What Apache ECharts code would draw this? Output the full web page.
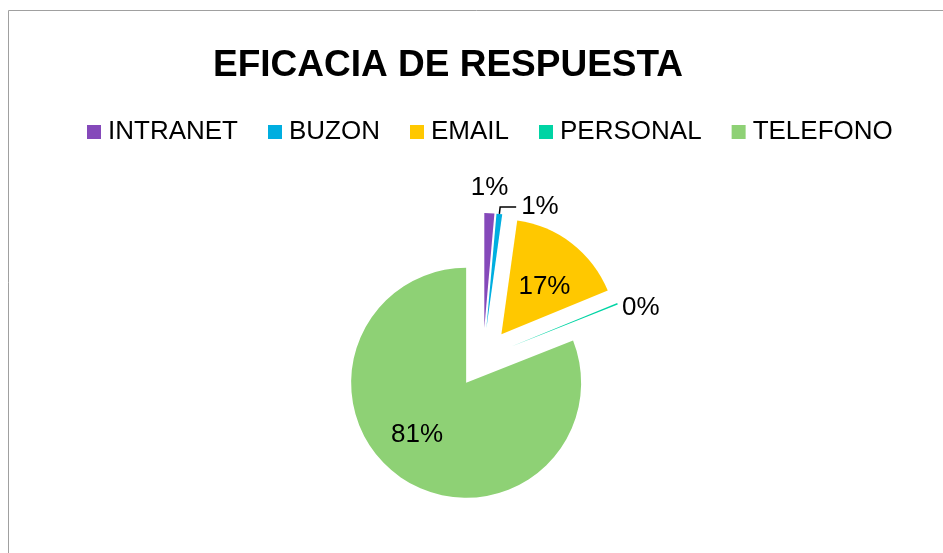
<!DOCTYPE html>
<html>
<head>
<meta charset="utf-8">
<title>EFICACIA DE RESPUESTA</title>
<script src="https://cdn.jsdelivr.net/npm/echarts@6/dist/echarts.min.js"></script>
<style>
  html, body { margin: 0; padding: 0; background: #fff; }
  #chart { width: 943px; height: 553px; }
</style>
</head>
<body>
<div id="chart"></div>
<script>
// datos
const categories = ['INTRANET', 'BUZON', 'EMAIL', 'PERSONAL', 'TELEFONO']
const values = [7, 4, 83, 1, 405]
const colors = ['#8549BA', '#00AEE0', '#FFC800', '#00D4A4', '#8ED175']

// etiquetas dentro o fuera de cada porcion
const labelInside = [false, false, true, false, true]
const showLeader = [false, true, false, false, false]

// pequenos ajustes de posicion de las etiquetas (px)
const labelShift = [[-40, -18], [0, 0], [6, 0], [-23, 7], [-15, 2]]

const chart = echarts.init(document.getElementById('chart'), null, { renderer: 'canvas' })

const font = '"Liberation Sans", Arial, sans-serif'

chart.setOption({
  animation: false,
  color: colors,
  graphic: [
    {
      type: 'rect',
      shape: { x: 8.5, y: 10.5, width: 1000, height: 1000 },
      style: { fill: 'none', stroke: '#A0A0A0', lineWidth: 1 },
      silent: true
    }
  ],
  title: {
    text: 'EFICACIA DE RESPUESTA',
    left: 213,
    top: 47,
    padding: 0,
    textStyle: {
      fontFamily: font,
      fontSize: 37,
      fontWeight: 'bold',
      color: '#000',
      lineHeight: 37
    }
  },
  legend: {
    left: 87,
    top: 119,
    padding: 0,
    itemWidth: 14,
    itemHeight: 14,
    itemGap: 30,
    icon: 'rect',
    selectedMode: false,
    textStyle: {
      fontFamily: font,
      fontSize: 26,
      lineHeight: 26,
      color: '#000',
      padding: [0, 0, 0, 2]
    },
    data: categories
  },
  series: [
    {
      type: 'pie',
      center: [483, 358],
      radius: 115,
      startAngle: 90,
      clockwise: true,
      selectedMode: 'multiple',
      selectedOffset: 30,
      avoidLabelOverlap: false,
      emphasis: { disabled: true },
      itemStyle: { borderWidth: 0 },
      label: {
        fontFamily: font,
        fontSize: 26,
        color: '#000',
        formatter: p => Math.round(p.percent) + '%'
      },
      labelLine: {
        lineStyle: { color: '#000', width: 1.5 }
      },
      labelLayout: params => ({
        hideOverlap: false,
        dx: labelShift[params.dataIndex][0],
        dy: labelShift[params.dataIndex][1]
      }),
      data: categories.map((name, i) => ({
        name: name,
        value: values[i],
        selected: true,
        label: { position: labelInside[i] ? 'inside' : 'outside' },
        labelLine: { show: showLeader[i], length: 7, length2: 16 }
      }))
    }
  ]
})
</script>
</body>
</html>
